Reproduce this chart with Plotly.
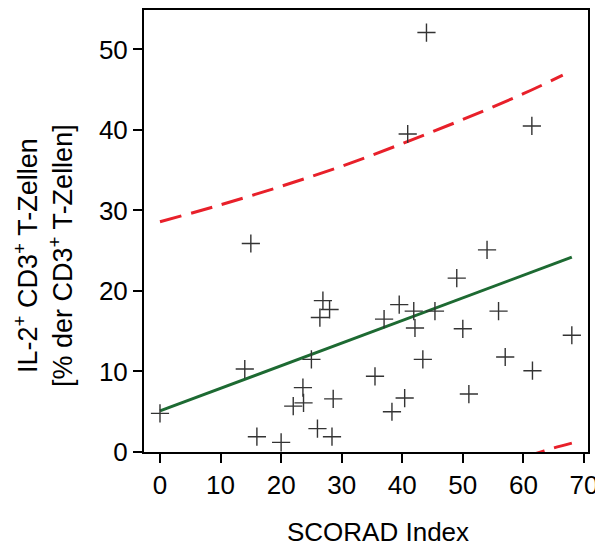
import plotly.graph_objects as go

# Scatter data (SCORAD index vs IL-2+ CD3+ T cells %)
scorad = [0, 15, 14, 16, 20, 22, 23.6, 23.7, 25, 26, 26.4, 26.9, 28, 28.4, 28.6,
          35.5, 37, 38.3, 39.5, 40.4, 40.9, 41.9, 42.1, 43.4, 44, 45.4, 49, 50,
          51, 54, 55.9, 57, 61.4, 61.5, 68]
il2 = [4.8, 25.9, 10.3, 1.9, 1.2, 5.7, 8.0, 6.1, 11.5, 2.9, 16.7, 18.8, 17.7, 1.9, 6.6,
       9.4, 16.5, 5.0, 18.3, 6.7, 39.5, 17.5, 15.4, 11.5, 52.1, 17.5, 21.6, 15.3,
       7.2, 25.1, 17.5, 11.8, 40.5, 10.1, 14.5]

# Regression line
fit_x = [0, 68]
fit_y = [5.1, 24.2]

# Upper prediction band
upper_x = [0, 10, 20, 30, 40, 50, 60, 66.5]
upper_y = [28.6, 30.7, 33.0, 35.5, 38.3, 41.3, 44.5, 46.8]

# Lower prediction band (only visible part near the right end)
lower_x = [60, 62, 65, 68]
lower_y = [-0.6, -0.2, 0.5, 1.1]

x_ticks = [0, 10, 20, 30, 40, 50, 60, 70]
y_ticks = [0, 10, 20, 30, 40, 50]

x_title = "SCORAD Index"
y_title = "IL-2<sup>+</sup> CD3<sup>+</sup> T-Zellen<br>[% der CD3<sup>+</sup> T-Zellen]"

fig = go.Figure()
fig.add_trace(go.Scatter(x=upper_x, y=upper_y, mode="lines", line_shape="spline",
                         line=dict(color="#e8202a", width=3, dash="22px,10px"),
                         showlegend=False, hoverinfo="skip"))
fig.add_trace(go.Scatter(x=lower_x, y=lower_y, mode="lines", line_shape="spline",
                         line=dict(color="#e8202a", width=3, dash="22px,10px"),
                         showlegend=False, hoverinfo="skip"))
fig.add_trace(go.Scatter(x=fit_x, y=fit_y, mode="lines",
                         line=dict(color="#1d6a32", width=3),
                         showlegend=False))
fig.add_trace(go.Scatter(x=scorad, y=il2, mode="markers",
                         marker=dict(symbol="cross-thin", size=13,
                                     line=dict(color="#333333", width=1.4)),
                         showlegend=False))

family = "Liberation Sans, Arial, sans-serif"
tickfont = dict(family=family, size=26, color="black")

# page body has an 8px margin, so the figure is shifted by 8px; compensate
fig.update_layout(
    width=595, height=541,
    margin=dict(l=136, r=15, t=0, b=97),
    plot_bgcolor="white", paper_bgcolor="white",
    font=dict(family=family, size=25, color="black"),
    xaxis=dict(range=[-2.64, 70.67], tickvals=x_ticks, ticks="outside", ticklen=9,
               tickwidth=2, tickcolor="black", showline=True, linewidth=2,
               linecolor="black", mirror=True, showgrid=False, zeroline=False,
               tickfont=tickfont),
    yaxis=dict(range=[0, 54.9], tickvals=y_ticks, ticks="outside", ticklen=9,
               tickwidth=2, tickcolor="black", showline=True, linewidth=2,
               linecolor="black", mirror=True, showgrid=False, zeroline=False,
               tickfont=tickfont),
    annotations=[
        dict(text=y_title, xref="paper", yref="paper", x=0, y=0.5,
             xanchor="center", yanchor="middle", xshift=-101, yshift=-25,
             textangle=-90, showarrow=False,
             font=dict(family=family, size=27, color="black")),
        dict(text=x_title, xref="paper", yref="paper", x=0.527, y=0,
             xanchor="center", yanchor="middle", yshift=-80, showarrow=False,
             font=dict(family=family, size=26, color="black")),
    ],
)

fig.write_html("out.html")
